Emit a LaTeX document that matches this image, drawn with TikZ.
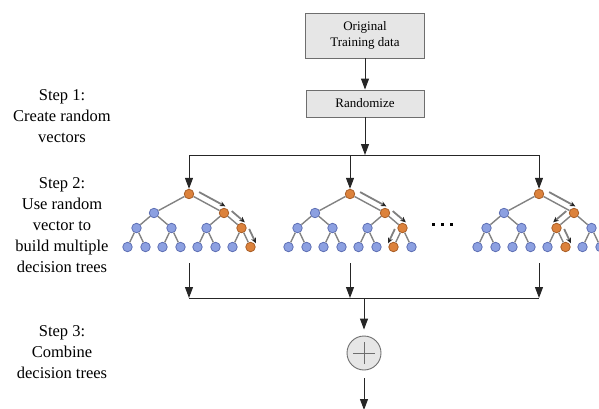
\documentclass[tikz,border=0pt]{standalone}
\usepackage{fontspec}
\setmainfont{Liberation Serif}
\usetikzlibrary{arrows.meta,calc}
\definecolor{bluefill}{RGB}{140,160,225}
\definecolor{blueborder}{RGB}{95,112,180}
\definecolor{orangefill}{RGB}{220,130,60}
\definecolor{orangeborder}{RGB}{170,95,40}
\definecolor{edgegray}{RGB}{130,130,130}
\definecolor{boxfill}{RGB}{230,230,230}
\definecolor{boxborder}{RGB}{110,110,110}
\tikzset{
  bn/.style={circle,draw=blueborder,fill=bluefill,line width=0.8pt,minimum size=9.5pt,inner sep=0pt},
  on/.style={draw=orangeborder,fill=orangefill},
  tedge/.style={draw=edgegray,line width=1.4pt},
  flow/.style={draw=black!85,line width=1pt,-{Triangle[length=11pt,width=8pt]}},
  busline/.style={draw=black!85,line width=1pt},
  hint/.style={draw=black!50,line width=1.8pt,-{Stealth[length=5.5pt,width=5pt,color=black!85]}},
  gbox/.style={draw=boxborder,fill=boxfill,line width=0.9pt,font=\fontsize{13}{16}\selectfont,align=center,inner sep=0pt},
  steptext/.style={align=center,font=\fontsize{16.5}{21}\selectfont,inner sep=0pt},
  t1r/.style=on, t1b/.style=on, t1bb/.style=on, t1bbb/.style=on,
  t2r/.style=on, t2b/.style=on, t2bb/.style=on, t2bba/.style=on,
  t3r/.style=on, t3b/.style=on, t3ba/.style=on, t3bab/.style=on,
}
\newcommand{\mytree}[2]{%
  \node[bn,#1r/.try] (#1r) at (#2,194) {};
  \node[bn,#1a/.try] (#1a) at (#2-35,213) {};
  \node[bn,#1b/.try] (#1b) at (#2+35,213) {};
  \node[bn,#1aa/.try] (#1aa) at (#2-52.5,228) {};
  \node[bn,#1ab/.try] (#1ab) at (#2-17.5,228) {};
  \node[bn,#1ba/.try] (#1ba) at (#2+17.5,228) {};
  \node[bn,#1bb/.try] (#1bb) at (#2+52.5,228) {};
  \node[bn,#1aaa/.try] (#1aaa) at (#2-61.5,247) {};
  \node[bn,#1aab/.try] (#1aab) at (#2-43.5,247) {};
  \node[bn,#1aba/.try] (#1aba) at (#2-26.5,247) {};
  \node[bn,#1abb/.try] (#1abb) at (#2-8.5,247) {};
  \node[bn,#1baa/.try] (#1baa) at (#2+8.5,247) {};
  \node[bn,#1bab/.try] (#1bab) at (#2+26.5,247) {};
  \node[bn,#1bba/.try] (#1bba) at (#2+43.5,247) {};
  \node[bn,#1bbb/.try] (#1bbb) at (#2+61.5,247) {};
  \draw[tedge] (#1r) -- (#1a) (#1r) -- (#1b)
    (#1a) -- (#1aa) (#1a) -- (#1ab) (#1b) -- (#1ba) (#1b) -- (#1bb)
    (#1aa) -- (#1aaa) (#1aa) -- (#1aab) (#1ab) -- (#1aba) (#1ab) -- (#1abb)
    (#1ba) -- (#1baa) (#1ba) -- (#1bab) (#1bb) -- (#1bba) (#1bb) -- (#1bbb);
}
\newcommand{\hintarrow}[3]{%
  \draw[hint] ($(#1)!0.2!(#2)!6.5pt!#3:(#2)$) -- ($(#1)!0.95!(#2)!6.5pt!#3:(#2)$);
}
\begin{document}
\begin{tikzpicture}[x=1pt,y=-1pt]
\useasboundingbox (0,0) rectangle (599,409);
% boxes
\node[gbox,minimum width=119pt,minimum height=45pt] (b1) at (365,35.5) {Original\\Training data};
\node[gbox,minimum width=118pt,minimum height=27pt] (b2) at (365,103.5) {Randomize};
\draw[flow] (b1) -- (b2);
% step texts
\node[steptext] (s1) at (62,116) {Step 1:\\Create random\\vectors};
\node[steptext] (s2) at (62,225) {Step 2:\\Use random\\vector to\\build multiple\\decision trees};
\node[steptext] (s3) at (62,352.5) {Step 3:\\Combine\\decision trees};
% trees
\mytree{t1}{189}
\mytree{t2}{350}
\mytree{t3}{539}
\hintarrow{t1r}{t1b}{90}
\hintarrow{t1b}{t1bb}{90}
\hintarrow{t1bb}{t1bbb}{90}
\hintarrow{t2r}{t2b}{90}
\hintarrow{t2b}{t2bb}{90}
\hintarrow{t2bb}{t2bba}{-90}
\hintarrow{t3r}{t3b}{90}
\hintarrow{t3b}{t3ba}{-90}
\hintarrow{t3ba}{t3bab}{90}
% ellipsis
\fill (431.5,222.5) rectangle +(3.5,3.5);
\fill (440.5,222.5) rectangle +(3.5,3.5);
\fill (449.5,222.5) rectangle +(3.5,3.5);
% top bus
\coordinate (busL) at (189,155);
\coordinate (busR) at (539,155);
\coordinate (busM) at (365,155);
\draw[flow] (b2) -- (busM);
\draw[busline] (busL) -- (busR);
\draw[flow] (busL) -- (t1r);
\draw[flow] (t2r |- busL) -- (t2r);
\draw[flow] (busR) -- (t3r);
% bottom bus
\coordinate (o1) at (189,263);
\coordinate (o2) at (350,263);
\coordinate (o3) at (539,263);
\coordinate (cL) at (189,298);
\coordinate (cM) at (350,298);
\coordinate (cR) at (539,298);
\draw[flow] (o1) -- (cL);
\draw[flow] (o2) -- (cM);
\draw[flow] (o3) -- (cR);
\draw[busline] (cL) -- (cR);
\node[circle,draw=boxborder,fill=boxfill,line width=0.9pt,minimum size=34pt,inner sep=0pt,
  path picture={\draw[boxborder,line width=1pt]
    ([xshift=-11pt]path picture bounding box.center) -- ([xshift=11pt]path picture bounding box.center)
    ([yshift=-11pt]path picture bounding box.center) -- ([yshift=11pt]path picture bounding box.center);}]
  (plus) at (364,353) {};
\coordinate (cP) at (364,298);
\coordinate (out) at (364,410);
\draw[flow,shorten >=6pt] (cP) -- (plus);
\draw[flow,shorten <=8pt] (plus) -- (out);
\end{tikzpicture}
\end{document}
